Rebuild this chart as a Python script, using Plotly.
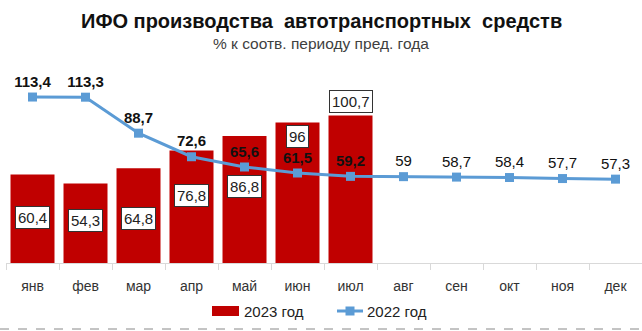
import plotly.graph_objects as go

months = ["янв", "фев", "мар", "апр", "май", "июн", "июл", "авг", "сен", "окт", "ноя", "дек"]
ifo_2023 = [60.4, 54.3, 64.8, 76.8, 86.8, 96, 100.7]
ifo_2022 = [113.4, 113.3, 88.7, 72.6, 65.6, 61.5, 59.2, 59, 58.7, 58.4, 57.7, 57.3]
series_names = ["2023 год", "2022 год"]

# relative height of each 2023 label inside its bar (None = just above the bar)
label_frac = [0.51, 0.54, 0.47, 0.60, 0.60, 0.90, None]
# points whose labels are drawn in bold
bold_points = 7

RED = "#C00000"
BLUE = "#5B9BD5"
FONT = "Liberation Sans, Arial, sans-serif"

# plot area geometry in pixels (used to place the hand-drawn legend)
W, H = 642, 331
ML, MR, MT, MB = 6, 0, 60, 68
PW, PH = W - ML - MR, H - MT - MB


def px_x(px):
    return (px - ML) / PW


def px_y(py):
    return (H - MB - py) / PH


def fmt(v):
    return f"{v:g}".replace(".", ",")


line_text = [
    f"<b>{fmt(v)}</b>" if i < bold_points else fmt(v)
    for i, v in enumerate(ifo_2022)
]

fig = go.Figure()
fig.add_trace(go.Bar(
    x=months[:len(ifo_2023)], y=ifo_2023, name=series_names[0],
    marker=dict(color=RED, line=dict(width=0)), width=0.83,
))
fig.add_trace(go.Scatter(
    x=months, y=ifo_2022, name=series_names[1],
    mode="lines+markers+text",
    line=dict(color=BLUE, width=3),
    marker=dict(color=BLUE, size=9, symbol="square"),
    text=line_text, textposition="top center",
    textfont=dict(size=15, color="#111111", family=FONT),
    cliponaxis=False,
))

box = dict(showarrow=False, bgcolor="white", bordercolor="#333333",
           borderwidth=1, borderpad=2,
           font=dict(size=15, color="#222222", family=FONT))
for m, v, f in zip(months, ifo_2023, label_frac):
    if f is None:
        fig.add_annotation(x=m, y=v, yanchor="bottom", yshift=3, text=fmt(v), **box)
    else:
        fig.add_annotation(x=m, y=v * f, yanchor="middle", text=fmt(v), **box)

fig.add_annotation(xref="paper", yref="paper", x=px_x(321), y=px_y(21),
                   xanchor="center", yanchor="middle",
                   text="<b>ИФО производства  автотранспортных  средств</b>",
                   showarrow=False, font=dict(size=20, color="#111111", family=FONT))
fig.add_annotation(xref="paper", yref="paper", x=px_x(321), y=px_y(43),
                   xanchor="center", yanchor="middle",
                   text="% к соотв. периоду пред. года",
                   showarrow=False, font=dict(size=15.5, color="#404040", family=FONT))

# legend
ly = px_y(311)
fig.add_shape(type="rect", xref="paper", yref="paper",
              x0=px_x(212), x1=px_x(239), y0=px_y(316), y1=px_y(306),
              fillcolor=RED, line=dict(width=0))
fig.add_annotation(xref="paper", yref="paper", x=px_x(242), y=ly,
                   xanchor="left", yanchor="middle", text=series_names[0],
                   showarrow=False, font=dict(size=15, color="#222222", family=FONT))
fig.add_shape(type="line", xref="paper", yref="paper",
              x0=px_x(337), x1=px_x(363), y0=ly, y1=ly,
              line=dict(color=BLUE, width=3))
fig.add_shape(type="rect", xref="paper", yref="paper",
              x0=px_x(345.5), x1=px_x(354.5), y0=px_y(315.5), y1=px_y(306.5),
              fillcolor=BLUE, line=dict(width=0))
fig.add_annotation(xref="paper", yref="paper", x=px_x(365), y=ly,
                   xanchor="left", yanchor="middle", text=series_names[1],
                   showarrow=False, font=dict(size=15, color="#222222", family=FONT))

# dashed rule along the bottom edge
fig.add_shape(type="line", xref="paper", yref="paper", x0=px_x(0), x1=px_x(642),
              y0=px_y(329), y1=px_y(329),
              line=dict(color="#888888", width=1, dash="dash"))

fig.update_layout(
    width=W, height=H,
    margin=dict(l=ML, r=MR, t=MT, b=MB),
    paper_bgcolor="white", plot_bgcolor="white",
    font=dict(family=FONT),
    showlegend=False,
)
fig.update_xaxes(
    type="category", categoryorder="array", categoryarray=months,
    range=[-0.5, 11.5],
    showline=True, linecolor="#D9D9D9", linewidth=1,
    ticks="outside", tickson="boundaries", ticklen=6, tickcolor="#D9D9D9",
    ticklabelstandoff=10,
    tickfont=dict(size=14, color="#333333", family=FONT),
    showgrid=False,
)
fig.update_yaxes(range=[0, 138.7], visible=False, showgrid=False)

fig.write_html("out.html")
